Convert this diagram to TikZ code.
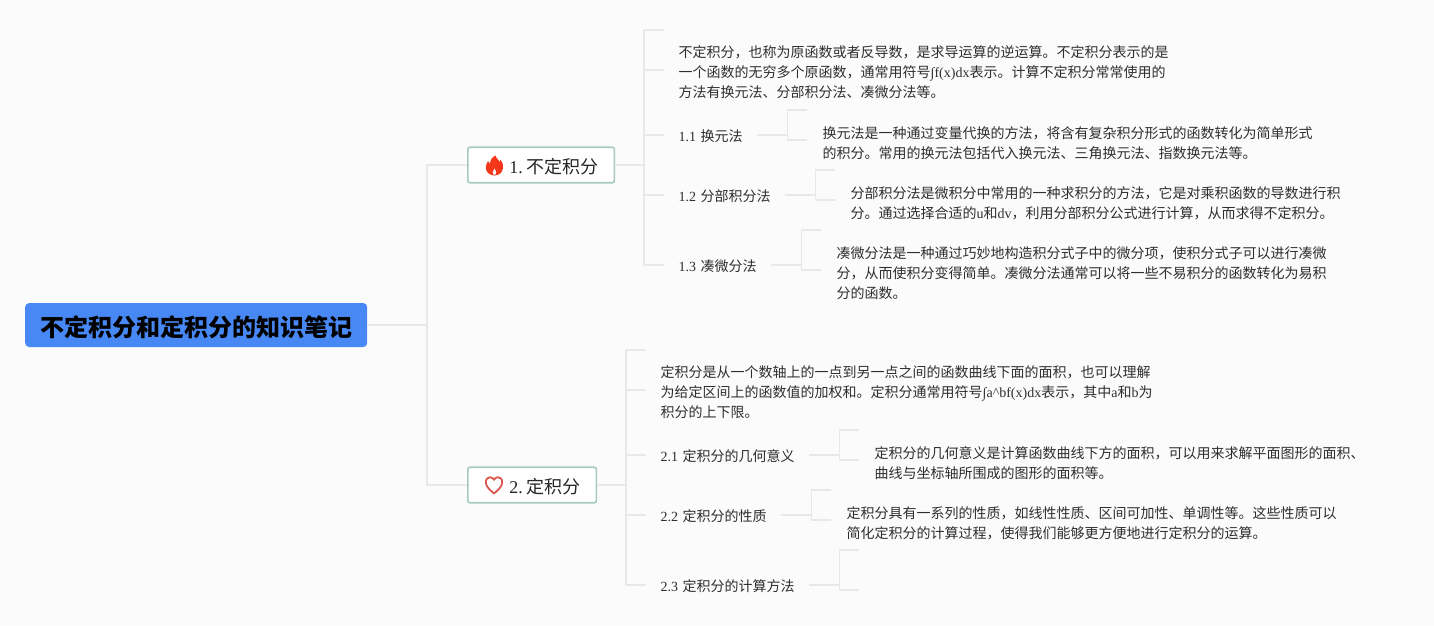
\documentclass[tikz,border=0pt]{standalone}
\usepackage{fontspec}
\setmainfont{Noto Sans CJK SC}
\newfontfamily\latinfam{Liberation Serif}
\newcommand{\lat}[1]{{\latinfam\frenchspacing #1}}
\definecolor{bgc}{HTML}{FBFBFC}
\definecolor{linkc}{HTML}{E8E8E8}
\definecolor{rootc}{HTML}{4788F4}
\definecolor{boxc}{HTML}{A6CABF}
\definecolor{txtc}{HTML}{2E2E2E}
\definecolor{flamec}{HTML}{F4361A}
\definecolor{heartc}{HTML}{D9574C}
\tikzset{
  x=1pt,y=-1pt,
  link/.style={draw=linkc,line width=1.8pt,line join=round},
  rootbox/.style={anchor=west,fill=rootc,rounded corners=4pt,minimum height=44pt,text width=342pt,text height=24pt,text depth=2pt,inner xsep=0pt,inner ysep=0pt,align=center,text=black,font=\fontsize{24}{28}\bfseries\selectfont},
  topicbox/.style={anchor=west,fill=white,draw=boxc,line width=1.6pt,rounded corners=2pt,minimum height=35.5pt,text height=16pt,text depth=0pt,inner xsep=0pt,inner ysep=0pt,align=left,text=black!85,font=\fontsize{18}{22}\selectfont},
  sublabel/.style={anchor=west,inner sep=0pt,text height=12pt,text depth=0pt,align=left,text=txtc,font=\fontsize{14}{18}\selectfont},
  bodytext/.style={anchor=north west,inner sep=0pt,align=left,text=txtc,font=\fontsize{14}{20}\selectfont},
}
\begin{document}
\begin{tikzpicture}
\useasboundingbox (0,0) rectangle (1434,625);
\fill[bgc] (0,0) rectangle (1434,625);

% junctions and free ends
\coordinate (j0) at (427,325);
\coordinate (ja) at (427,165);
\coordinate (jb) at (427,485);
\coordinate (j1) at (644,165);
\coordinate (j1t) at (644,30);
\coordinate (j1b) at (644,265);
\coordinate (t1a) at (664,30);
\coordinate (t1b) at (664,70);
\coordinate (t11s) at (644,135);
\coordinate (t12s) at (644,195);
\coordinate (t13s) at (644,265);
\coordinate (j2) at (626,485);
\coordinate (j2t) at (626,350);
\coordinate (j2b) at (626,585);
\coordinate (t2a) at (646,350);
\coordinate (t2b) at (646,390);
\coordinate (t21s) at (626,455);
\coordinate (t22s) at (626,515);
\coordinate (t23s) at (626,585);

% nodes
\node[rootbox] (root) at (25,325) {不定积分和定积分的知识笔记};
\node[topicbox,text width=146.5pt] (A) at (467,165) {\hspace*{41.5pt}\lat{1.}\hspace{3.5pt}不定积分};
\node[topicbox,text width=128.5pt] (B) at (467,485) {\hspace*{41.5pt}\lat{2.}\hspace{3.5pt}定积分};

\node[sublabel,text width=78.5pt] (a1) at (678.5,135) {\lat{1.1}\hspace{4.5pt}换元法};
\node[sublabel,text width=106.5pt] (a2) at (678.5,195) {\lat{1.2}\hspace{4.5pt}分部积分法};
\node[sublabel,text width=92.5pt] (a3) at (678.5,265) {\lat{1.3}\hspace{4.5pt}凑微分法};
\node[sublabel,text width=148.5pt] (b1) at (660.5,455) {\lat{2.1}\hspace{4.5pt}定积分的几何意义};
\node[sublabel,text width=120.5pt] (b2) at (660.5,515) {\lat{2.2}\hspace{4.5pt}定积分的性质};
\node[sublabel,text width=148.5pt] (b3) at (660.5,585) {\lat{2.3}\hspace{4.5pt}定积分的计算方法};

\node[bodytext] (ta) at (678.5,45) {不定积分，也称为原函数或者反导数，是求导运算的逆运算。不定积分表示的是\\一个函数的无穷多个原函数，通常用符号\lat{∫f(x)dx}表示。计算不定积分常常使用的\\方法有换元法、分部积分法、凑微分法等。};
\node[bodytext] (ta1) at (822.5,126) {换元法是一种通过变量代换的方法，将含有复杂积分形式的函数转化为简单形式\\的积分。常用的换元法包括代入换元法、三角换元法、指数换元法等。};
\node[bodytext] (ta2) at (850.5,186) {分部积分法是微积分中常用的一种求积分的方法，它是对乘积函数的导数进行积\\分。通过选择合适的\lat{u}和\lat{dv}，利用分部积分公式进行计算，从而求得不定积分。};
\node[bodytext] (ta3) at (836.5,246) {凑微分法是一种通过巧妙地构造积分式子中的微分项，使积分式子可以进行凑微\\分，从而使积分变得简单。凑微分法通常可以将一些不易积分的函数转化为易积\\分的函数。};
\node[bodytext] (tb) at (660.5,365) {定积分是从一个数轴上的一点到另一点之间的函数曲线下面的面积，也可以理解\\为给定区间上的函数值的加权和。定积分通常用符号\lat{∫a\^{}bf(x)dx}表示，其中\lat{a}和\lat{b}为\\积分的上下限。};
\node[bodytext] (tb1) at (874.5,446) {定积分的几何意义是计算函数曲线下方的面积，可以用来求解平面图形的面积、\\曲线与坐标轴所围成的图形的面积等。};
\node[bodytext] (tb2) at (846.5,506) {定积分具有一系列的性质，如线性性质、区间可加性、单调性等。这些性质可以\\简化定积分的计算过程，使得我们能够更方便地进行定积分的运算。};

% level 1 connectors
\draw[link] (root.east) -- (j0);
\draw[link] (A.west) -- (ja) -- (jb) -- (B.west);

% level 2 connectors
\draw[link] (A.east) -- (j1);
\draw[link] (t1a) -- (j1t) -- (j1b) -- (t13s) -- ++(20,0);
\draw[link] (j1 |- t1b) -- (t1b);
\draw[link] (t11s) -- ++(20,0);
\draw[link] (t12s) -- ++(20,0);
\draw[link] (B.east) -- (j2);
\draw[link] (t2a) -- (j2t) -- (j2b) -- (t23s) -- ++(20,0);
\draw[link] (j2 |- t2b) -- (t2b);
\draw[link] (t21s) -- ++(20,0);
\draw[link] (t22s) -- ++(20,0);

% level 3 brackets
\draw[link] (a1.east) -- ++(30,0);
\draw[link] ([shift={(50,-25)}]a1.east) -- ++(-20,0) -- ++(0,30) -- ++(20,0);
\draw[link] (a2.east) -- ++(30,0);
\draw[link] ([shift={(50,-25)}]a2.east) -- ++(-20,0) -- ++(0,30) -- ++(20,0);
\draw[link] (a3.east) -- ++(30,0);
\draw[link] ([shift={(50,-35)}]a3.east) -- ++(-20,0) -- ++(0,40) -- ++(20,0);
\draw[link] (b1.east) -- ++(30,0);
\draw[link] ([shift={(50,-25)}]b1.east) -- ++(-20,0) -- ++(0,30) -- ++(20,0);
\draw[link] (b2.east) -- ++(30,0);
\draw[link] ([shift={(50,-25)}]b2.east) -- ++(-20,0) -- ++(0,30) -- ++(20,0);
\draw[link] (b3.east) -- ++(30,0);
\draw[link] ([shift={(50,-35)}]b3.east) -- ++(-20,0) -- ++(0,40) -- ++(20,0);

% flame icon
\fill[flamec,even odd rule]
  (495.5,155.5) .. controls (496.5,159) and (499,160) .. (500,162)
  .. controls (500.5,161.5) and (500.6,160.5) .. (500.4,159.5)
  .. controls (502.5,162) and (503.5,165) .. (503,168)
  .. controls (502.5,172) and (499.5,175.5) .. (494.5,175.5)
  .. controls (489.5,175.5) and (486,172) .. (485.8,168)
  .. controls (485.6,165) and (487,163) .. (488,161)
  .. controls (488.5,162.5) and (489,163.2) .. (490,164)
  .. controls (490,160.5) and (492,157) .. (495.5,155.5) -- cycle
  (494.6,168) .. controls (494.4,169.5) and (492.6,170.5) .. (492.6,172.5)
  .. controls (492.6,174) and (493.5,174.8) .. (494.5,175)
  .. controls (495.5,174.8) and (496.4,174) .. (496.4,172.5)
  .. controls (496.4,170.5) and (495,169.5) .. (494.6,168) -- cycle;

% heart icon
\draw[heartc,line width=1.8pt,line join=round]
  (494,493.5) .. controls (490,490) and (485.8,486.5) .. (485.8,482.2)
  .. controls (485.8,479) and (488,477.2) .. (490,477.2)
  .. controls (491.8,477.2) and (493.2,478.2) .. (494,479.8)
  .. controls (494.8,478.2) and (496.2,477.2) .. (498,477.2)
  .. controls (500,477.2) and (502.2,479) .. (502.2,482.2)
  .. controls (502.2,486.5) and (498,490) .. (494,493.5) -- cycle;
\end{tikzpicture}
\end{document}
